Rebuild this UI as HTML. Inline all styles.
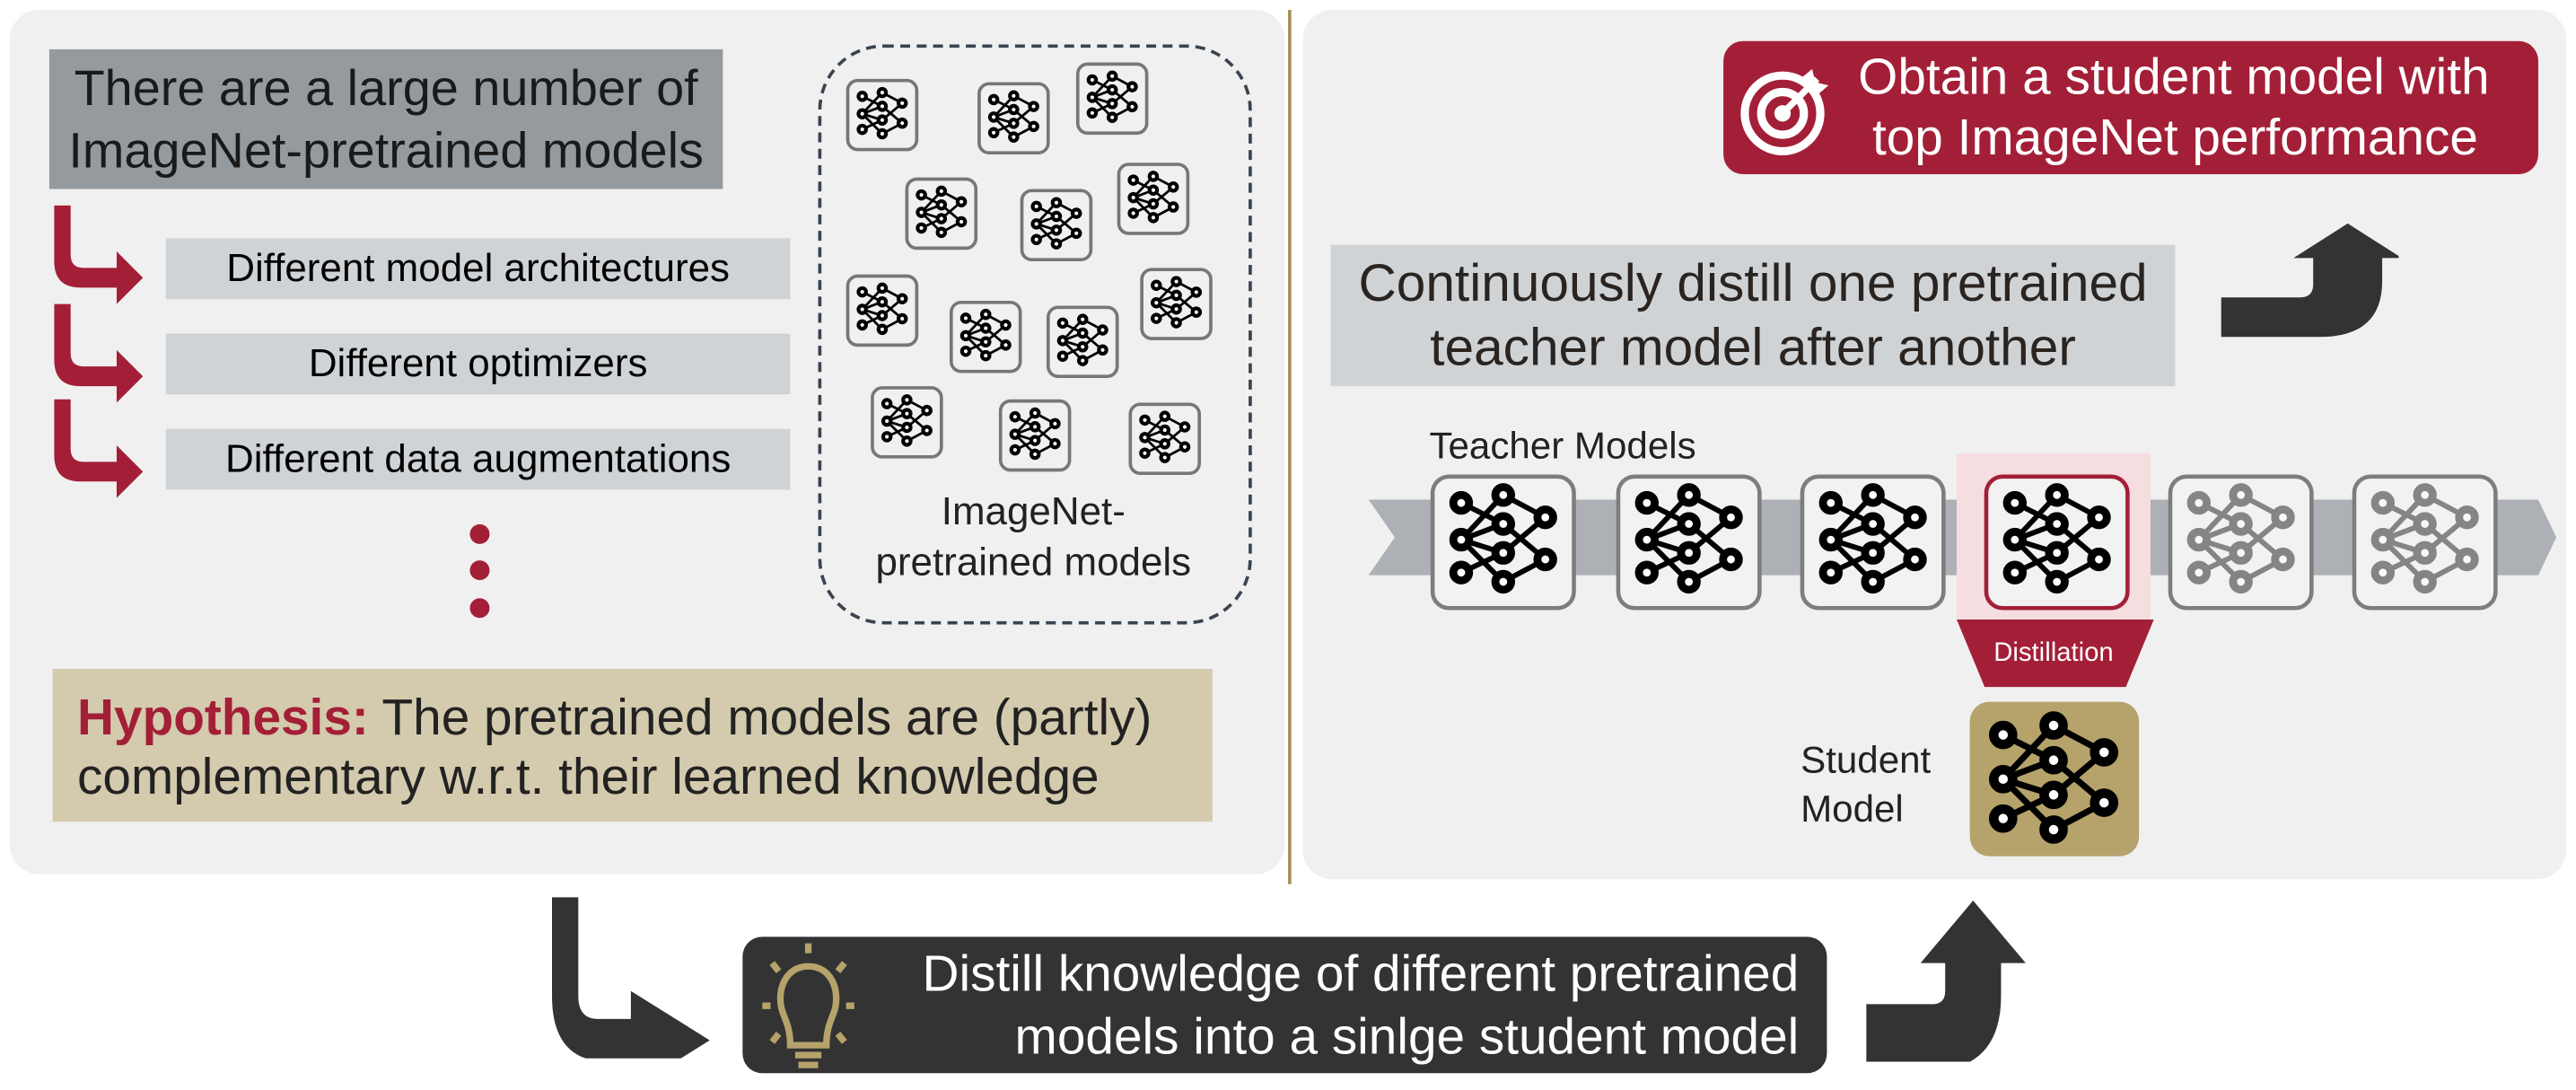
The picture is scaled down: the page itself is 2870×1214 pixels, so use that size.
<!DOCTYPE html>
<html><head><meta charset="utf-8"><style>
html,body{margin:0;padding:0;background:#fff;width:2870px;height:1214px;overflow:hidden}
#w{position:absolute;left:0;top:0;width:1568px;height:663px;transform:scale(1.8304);transform-origin:0 0;font-family:"Liberation Sans",sans-serif}
.a{position:absolute}
.c{display:flex;align-items:center;justify-content:center;text-align:center}
</style></head><body><div id="w">
<svg width="0" height="0" style="position:absolute"><defs>
<symbol id="nn" viewBox="0 0 100 100">
<g stroke="#000" stroke-width="4" fill="none">
<path d="M18 20L50 36M18 48L50 14M18 48L50 36M18 48L50 58M18 48L50 80M18 73L50 58M50 14L82 31M50 36L82 63M50 58L82 31M50 80L82 63"/>
<g fill="#fff" stroke-width="6"><circle cx="18" cy="20" r="6"/><circle cx="18" cy="48" r="6"/><circle cx="18" cy="73" r="6"/><circle cx="50" cy="14" r="6"/><circle cx="50" cy="36" r="6"/><circle cx="50" cy="58" r="6"/><circle cx="50" cy="80" r="6"/><circle cx="82" cy="31" r="6"/><circle cx="82" cy="63" r="6"/></g></g></symbol>
</defs></svg>

<div class="a" style="left:6px;top:6px;width:776px;height:526px;background:#f0f0f0;border-radius:18px"></div>
<div class="a" style="left:784px;top:6px;width:2px;height:532px;background:#a8915a"></div>
<div class="a" style="left:793px;top:6px;width:769px;height:529px;background:#f0f0f0;border-radius:18px"></div>

<div class="a c" style="left:30px;top:30px;width:410px;height:85px;background:#959a9f;font-size:30.5px;line-height:38px;color:#1a1a1a">There are a large number of<br>ImageNet-pretrained models</div>

<svg class="a" style="left:30px;top:125px" width="70" height="180" viewBox="0 0 70 180">
<g fill="#a31f37">
<path d="M3 0h10v30q0 8 8 8h20v-10l16 16-16 16v-10h-22q-16 0-16-16z"/>
<path transform="translate(0,60)" d="M3 0h10v30q0 8 8 8h20v-10l16 16-16 16v-10h-22q-16 0-16-16z"/>
<path transform="translate(0,118)" d="M3 0h10v30q0 8 8 8h20v-10l16 16-16 16v-10h-22q-16 0-16-16z"/>
</g></svg>
<div class="a c" style="left:101px;top:145px;width:380px;height:37px;background:#d0d3d6;font-size:24px">Different model architectures</div>
<div class="a c" style="left:101px;top:203px;width:380px;height:37px;background:#d0d3d6;font-size:24px">Different optimizers</div>
<div class="a c" style="left:101px;top:261px;width:380px;height:37px;background:#d0d3d6;font-size:24px">Different data augmentations</div>
<div class="a" style="left:286px;top:319px;width:12px;height:12px;border-radius:6px;background:#a31f37"></div>
<div class="a" style="left:286px;top:341px;width:12px;height:12px;border-radius:6px;background:#a31f37"></div>
<div class="a" style="left:286px;top:364px;width:12px;height:12px;border-radius:6px;background:#a31f37"></div>

<div class="a" style="left:498px;top:27px;width:260px;height:349px;border:2px dashed #3a4450;border-radius:40px"></div>
<svg class="a" style="left:498px;top:27px" width="262" height="280">
<g fill="#f0f0f0" stroke="#777" stroke-width="2">
<rect x="18" y="22" width="42" height="42" rx="6"/><rect x="98" y="24" width="42" height="42" rx="6"/><rect x="158" y="12" width="42" height="42" rx="6"/>
<rect x="54" y="82" width="42" height="42" rx="6"/><rect x="124" y="89" width="42" height="42" rx="6"/><rect x="183" y="73" width="42" height="42" rx="6"/>
<rect x="18" y="141" width="42" height="42" rx="6"/><rect x="81" y="157" width="42" height="42" rx="6"/><rect x="140" y="160" width="42" height="42" rx="6"/><rect x="197" y="137" width="42" height="42" rx="6"/>
<rect x="33" y="209" width="42" height="42" rx="6"/><rect x="111" y="217" width="42" height="42" rx="6"/><rect x="190" y="219" width="42" height="42" rx="6"/>
</g>
<g><use href="#nn" x="20" y="24" width="38" height="38"/><use href="#nn" x="100" y="26" width="38" height="38"/><use href="#nn" x="160" y="14" width="38" height="38"/>
<use href="#nn" x="56" y="84" width="38" height="38"/><use href="#nn" x="126" y="91" width="38" height="38"/><use href="#nn" x="185" y="75" width="38" height="38"/>
<use href="#nn" x="20" y="143" width="38" height="38"/><use href="#nn" x="83" y="159" width="38" height="38"/><use href="#nn" x="142" y="162" width="38" height="38"/><use href="#nn" x="199" y="139" width="38" height="38"/>
<use href="#nn" x="35" y="211" width="38" height="38"/><use href="#nn" x="113" y="219" width="38" height="38"/><use href="#nn" x="192" y="221" width="38" height="38"/></g>
</svg>
<div class="a" style="left:510px;top:296px;width:238px;font-size:24px;line-height:31px;color:#222;text-align:center">ImageNet-<br>pretrained models</div>

<div class="a" style="left:32px;top:407px;width:706px;height:93px;background:#d4caad;font-size:31px;line-height:36px;color:#222;box-sizing:border-box;padding:12px 0 0 15px;white-space:nowrap"><b style="color:#a31f37">Hypothesis:</b> The pretrained models are (partly)<br>complementary w.r.t. their learned knowledge</div>

<div class="a" style="left:1049px;top:25px;width:496px;height:81px;background:#a31f37;border-radius:12px"></div>
<svg class="a" style="left:1058px;top:36px" width="60" height="60" viewBox="0 0 60 60"><g fill="none" stroke="#fff" stroke-width="5"><circle cx="27" cy="33" r="23"/><circle cx="27" cy="33" r="13"/></g><circle cx="27" cy="33" r="5" fill="#fff"/><path d="M27 33L48 12" stroke="#fff" stroke-width="4"/><path d="M45 6l2 8 8 2-6 5-8-2-2-8z" fill="#fff"/></svg>
<div class="a" style="left:1131px;top:28px;width:420px;font-size:31px;line-height:37px;color:#fff;white-space:nowrap">Obtain a student model with<br>&nbsp;top ImageNet performance</div>

<div class="a c" style="left:810px;top:149px;width:514px;height:86px;background:#d0d3d6;font-size:32px;line-height:39px;color:#2a2420;white-space:nowrap">Continuously distill one pretrained<br>teacher model after another</div>
<svg class="a" style="left:1350px;top:135px" width="110" height="75" viewBox="0 0 110 75"><path d="M2 46h48q8 0 8-8v-16h-12l33-21 33 21h-12v14q0 34-38 34h-60z" fill="#333"/></svg>

<div class="a" style="left:870px;top:258px;font-size:23px;color:#222">Teacher Models</div>
<svg class="a" style="left:830px;top:300px" width="730" height="54"><path d="M3 4h712l11 23-11 23H3l16-23z" fill="#adb1b5"/></svg>
<div class="a" style="left:1191px;top:276px;width:118px;height:101px;background:#f5dde0"></div>
<svg class="a" style="left:860px;top:285px" width="670" height="90">
<g fill="#f2f2f2" stroke-width="2.5">
<rect x="12" y="5" width="86" height="80" rx="10" stroke="#7d7d7d"/>
<rect x="125" y="5" width="86" height="80" rx="10" stroke="#7d7d7d"/>
<rect x="237" y="5" width="86" height="80" rx="10" stroke="#7d7d7d"/>
<rect x="349" y="5" width="86" height="80" rx="10" stroke="#a31f37"/>
<rect x="461" y="5" width="86" height="80" rx="10" stroke="#7d7d7d"/>
<rect x="573" y="5" width="86" height="80" rx="10" stroke="#7d7d7d"/>
</g>
<use href="#nn" x="15" y="5" width="80" height="80"/><use href="#nn" x="128" y="5" width="80" height="80"/><use href="#nn" x="240" y="5" width="80" height="80"/><use href="#nn" x="352" y="5" width="80" height="80"/>
<g opacity="0.45"><use href="#nn" x="464" y="5" width="80" height="80"/><use href="#nn" x="576" y="5" width="80" height="80"/></g>
</svg>
<svg class="a" style="left:1190px;top:377px" width="122" height="43"><path d="M1 0h120l-17 41H18z" fill="#a31f37"/></svg>
<div class="a c" style="left:1190px;top:385px;width:120px;height:26px;font-size:16px;color:#fff">Distillation</div>
<div class="a" style="left:1199px;top:427px;width:103px;height:94px;background:#b5a36b;border-radius:12px"></div>
<svg class="a" style="left:1202px;top:428px" width="96" height="96"><use href="#nn" x="0" y="0" width="96" height="96"/></svg>
<div class="a" style="left:1096px;top:447px;font-size:23px;line-height:30px;color:#222">Student<br>Model</div>

<svg class="a" style="left:334px;top:544px" width="100" height="100" viewBox="0 0 100 100"><path d="M2 2h16v60q0 14 12 14h20v-17l48 30-48 30v-17h-14q-34 0-34-40z" fill="#333"/></svg>
<div class="a" style="left:452px;top:570px;width:660px;height:83px;background:#333;border-radius:12px"></div>
<svg class="a" style="left:462px;top:572px" width="60" height="80" viewBox="0 0 60 80"><g stroke="#b5a36b" fill="none" stroke-width="4"><path d="M30 16c-11 0-17 9-17 20 0 10 6 13 6 28h22c0-15 6-18 6-28 0-11-6-20-17-20z"/><path d="M22 70h16M24 76h12M30 2v6M8 14l4 5M52 14l-4 5M2 40h5M53 40h5M8 62l4-5M52 62l-4-5"/></g></svg>
<div class="a" style="left:520px;top:574px;width:575px;font-size:31px;line-height:38px;color:#fff;text-align:right;white-space:nowrap">Distill knowledge of different pretrained<br>models into a sinlge student model</div>
<svg class="a" style="left:1134px;top:546px" width="100" height="100" viewBox="0 0 100 100"><path d="M2 65h40q8 0 8-8v-17h-15l32-38 32 38h-15v20q0 46-46 46h-36z" fill="#333"/></svg>
</div></body></html>
